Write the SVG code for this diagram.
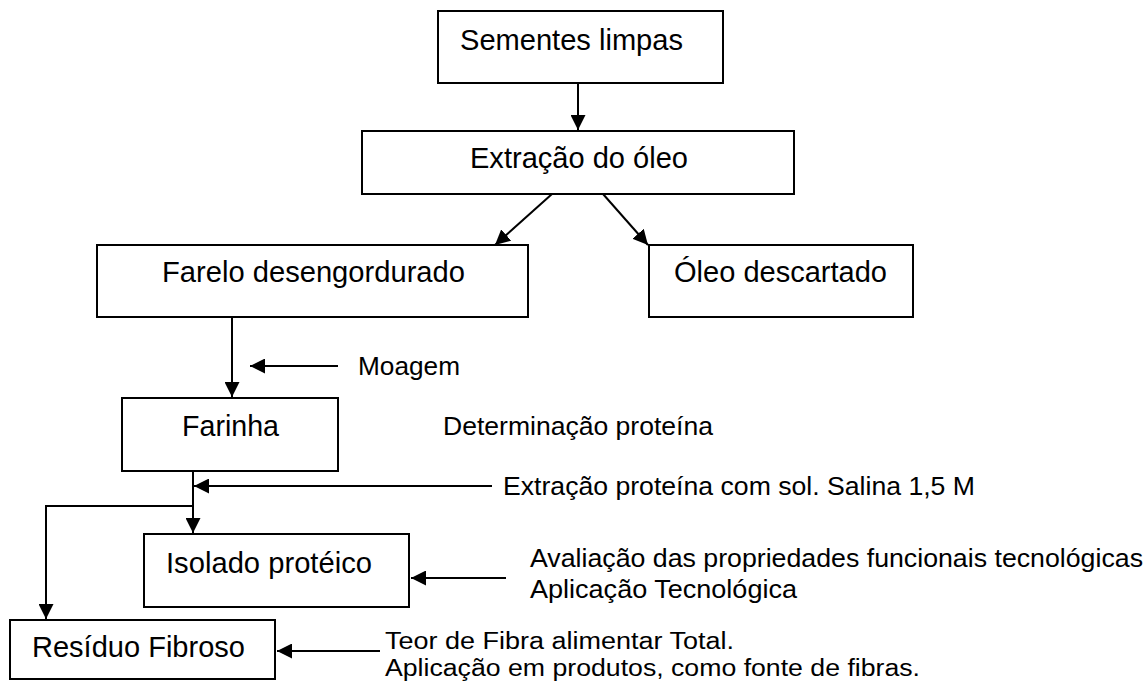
<svg xmlns="http://www.w3.org/2000/svg" width="1145" height="686" viewBox="0 0 1145 686">
<style>
.box{fill:#fff;stroke:#000;stroke-width:2}
.bt{font-family:"Liberation Sans",Arial,sans-serif;font-size:29px;fill:#000}
.lt{font-family:"Liberation Sans",Arial,sans-serif;font-size:26.5px;fill:#000}
.ls{font-family:"Liberation Sans",Arial,sans-serif;font-size:23.5px;fill:#000}
.c{fill:none;stroke:#000;stroke-width:2}
</style>
<defs>
<marker id="ah" markerUnits="userSpaceOnUse" markerWidth="16" markerHeight="15" refX="15" refY="7.5" orient="auto">
<path d="M0,0 L15,7.5 L0,15 Z" fill="#000"/>
</marker>
</defs>
<rect width="1145" height="686" fill="#fff"/>
<g id="connectors">
<line class="c" x1="578" y1="83" x2="578" y2="130" marker-end="url(#ah)"/>
<line class="c" x1="552" y1="194" x2="495" y2="245" marker-end="url(#ah)"/>
<line class="c" x1="603" y1="194" x2="648" y2="245" marker-end="url(#ah)"/>
<line class="c" x1="232" y1="317" x2="232" y2="397" marker-end="url(#ah)"/>
<line class="c" x1="338" y1="366" x2="250" y2="366" marker-end="url(#ah)"/>
<line class="c" x1="193" y1="471" x2="193" y2="533" marker-end="url(#ah)"/>
<line class="c" x1="492" y1="486" x2="194" y2="486" marker-end="url(#ah)"/>
<polyline class="c" points="193,506 46,506 46,619" marker-end="url(#ah)"/>
<line class="c" x1="506" y1="578" x2="411" y2="578" marker-end="url(#ah)"/>
<line class="c" x1="380" y1="651" x2="277" y2="651" marker-end="url(#ah)"/>
</g>
<g id="sementes"><rect class="box" x="438" y="11" width="285" height="72"/><text class="bt" x="460" y="50" textLength="223" lengthAdjust="spacingAndGlyphs">Sementes limpas</text></g>
<g id="extracao"><rect class="box" x="362" y="131" width="432" height="63"/><text class="bt" x="470" y="168" textLength="218" lengthAdjust="spacingAndGlyphs">Extração do óleo</text></g>
<g id="farelo"><rect class="box" x="97" y="245" width="431" height="72"/><text class="bt" x="162" y="282" textLength="303" lengthAdjust="spacingAndGlyphs">Farelo desengordurado</text></g>
<g id="oleo"><rect class="box" x="649" y="245" width="264" height="72"/><text class="bt" x="674" y="282" textLength="213" lengthAdjust="spacingAndGlyphs">Óleo descartado</text></g>
<g id="farinha"><rect class="box" x="122" y="398" width="216" height="73"/><text class="bt" x="182" y="436" textLength="97" lengthAdjust="spacingAndGlyphs">Farinha</text></g>
<g id="isolado"><rect class="box" x="144" y="534" width="265" height="73"/><text class="bt" x="166" y="573" textLength="206" lengthAdjust="spacingAndGlyphs">Isolado protéico</text></g>
<g id="residuo"><rect class="box" x="10" y="620" width="265" height="59"/><text class="bt" x="32" y="657" textLength="213" lengthAdjust="spacingAndGlyphs">Resíduo Fibroso</text></g>
<g id="labels">
<text class="lt" x="358" y="375" textLength="102" lengthAdjust="spacingAndGlyphs">Moagem</text>
<text class="lt" x="443" y="435" textLength="270" lengthAdjust="spacingAndGlyphs">Determinação proteína</text>
<text class="lt" x="503" y="495" textLength="472" lengthAdjust="spacingAndGlyphs">Extração proteína com sol. Salina 1,5 M</text>
<text class="lt" x="530" y="567" textLength="613" lengthAdjust="spacingAndGlyphs">Avaliação das propriedades funcionais tecnológicas</text>
<text class="lt" x="530" y="598" textLength="267" lengthAdjust="spacingAndGlyphs">Aplicação Tecnológica</text>
<text class="ls" x="385" y="649" textLength="349" lengthAdjust="spacingAndGlyphs">Teor de Fibra alimentar Total.</text>
<text class="ls" x="385" y="676" textLength="535" lengthAdjust="spacingAndGlyphs">Aplicação em produtos, como fonte de fibras.</text>
</g>
</svg>
